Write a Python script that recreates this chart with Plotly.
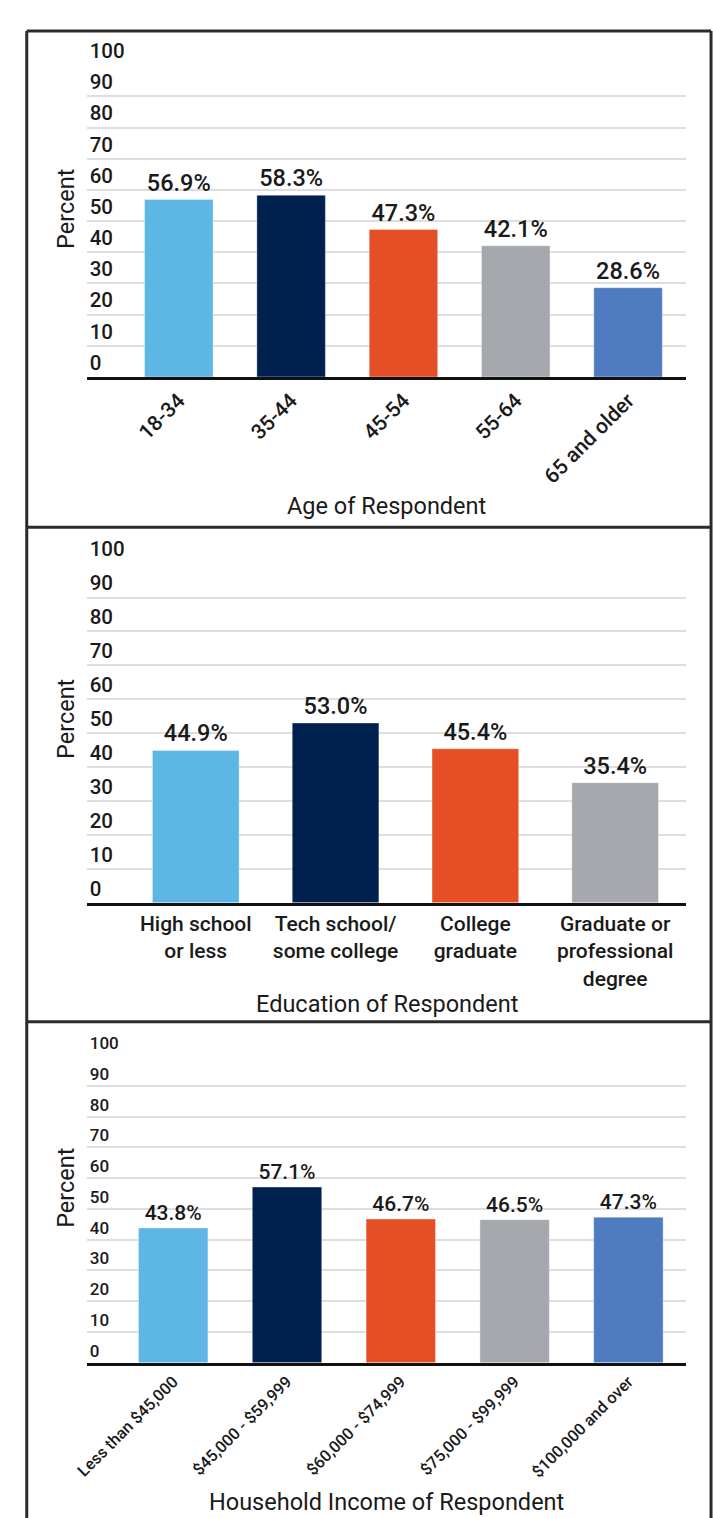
import plotly.graph_objects as go

W, H = 713, 1518

age_cats = ["18-34", "35-44", "45-54", "55-64", "65 and older"]
age_vals = [56.9, 58.3, 47.3, 42.1, 28.6]

edu_cats = ["High school<br>or less", "Tech school/<br>some college", "College<br>graduate",
            "Graduate or<br>professional<br>degree"]
edu_vals = [44.9, 53.0, 45.4, 35.4]

inc_cats = ["Less than $45,000", "$45,000 - $59,999", "$60,000 - $74,999",
            "$75,000 - $99,999", "$100,000 and over"]
inc_vals = [43.8, 57.1, 46.7, 46.5, 47.3]

colors = ["#5db6e4", "#002050", "#e44f26", "#a5a9ad", "#4f7bc1"]

FONT = "Roboto"


def px(x):
    return x / W


def py(y):
    return 1 - y / H


fig = go.Figure()

panels = [
    dict(cats=age_cats, vals=age_vals, top=40, bottom=357, xr=[-0.82, 4.52], bw=0.61,
         tick=20.5, xtick=21, angle=-45, val=23.5, title="Age of Respondent", ty=488, pct=186),
    dict(cats=edu_cats, vals=edu_vals, top=547, bottom=892, xr=[-0.78, 3.51], bw=0.62,
         tick=20.5, xtick=21, angle=0, val=23.5, title="Education of Respondent", ty=995, pct=705),
    dict(cats=inc_cats, vals=inc_vals, top=1047, bottom=1360, xr=[-0.76, 4.51], bw=0.61,
         tick=17, xtick=16.3, angle=-45, val=21, title="Household Income of Respondent", ty=1502, pct=1182),
]

annotations = []
for i, p in enumerate(panels):
    n = i + 1
    xa = "x" if n == 1 else f"x{n}"
    ya = "y" if n == 1 else f"y{n}"
    fig.add_trace(go.Bar(
        x=list(range(len(p["cats"]))), y=p["vals"],
        marker=dict(color=colors[:len(p["vals"])],
                    line=dict(width=1, color="rgba(255,255,255,0.35)")),
        width=p["bw"],
        texttemplate="%{y:.1f}%", textposition="outside",
        textfont=dict(family=FONT, size=p["val"], color="#1a1a1a", weight=500),
        cliponaxis=False, xaxis=xa, yaxis=ya, showlegend=False,
    ))
    xkey = "xaxis" if n == 1 else f"xaxis{n}"
    ykey = "yaxis" if n == 1 else f"yaxis{n}"
    fig.update_layout({
        xkey: dict(
            domain=[px(76), px(686)], range=p["xr"], anchor=ya,
            tickmode="array", tickvals=list(range(len(p["cats"]))), ticktext=p["cats"],
            tickangle=p["angle"], showgrid=False, zeroline=False,
            showline=True, linecolor="#111111", linewidth=3, ticks="",
            tickfont=dict(family=FONT, size=p["xtick"], color="#1a1a1a", weight=500),
            fixedrange=True,
        ),
        ykey: dict(
            domain=[py(p["bottom"]), py(p["top"])], range=[0, 100], anchor=xa,
            tickmode="linear", tick0=0, dtick=10,
            ticklabelposition="inside top", ticklabeloverflow="allow",
            showgrid=True, gridcolor="#dedede", gridwidth=2,
            zeroline=False, showline=False, ticks="",
            tickfont=dict(family=FONT, size=p["tick"], color="#1a1a1a", weight=500),
            fixedrange=True,
        ),
    })
    annotations.append(dict(
        text=p["title"], x=px(381), y=py(p["ty"]), xref="paper", yref="paper",
        showarrow=False, font=dict(family=FONT, size=23.5, color="#1a1a1a"),
        xanchor="center", yanchor="middle"))
    annotations.append(dict(
        text="Percent", x=px(55), y=py(p["pct"]), xref="paper", yref="paper",
        showarrow=False, textangle=-90, font=dict(family=FONT, size=23.5, color="#1a1a1a"),
        xanchor="center", yanchor="middle"))

line_style = dict(color="#2b2b2b", width=3)
shapes = [
    dict(type="line", xref="paper", yref="paper", x0=px(15), x1=px(15), y0=py(5), y1=py(1530), line=line_style),
    dict(type="line", xref="paper", yref="paper", x0=px(711), x1=px(711), y0=py(5), y1=py(1530), line=line_style),
    dict(type="line", xref="paper", yref="paper", x0=px(15), x1=px(711), y0=py(5), y1=py(5), line=line_style),
    dict(type="line", xref="paper", yref="paper", x0=px(15), x1=px(711), y0=py(510), y1=py(510), line=line_style),
    dict(type="line", xref="paper", yref="paper", x0=px(15), x1=px(711), y0=py(1013), y1=py(1013), line=line_style),
]

fig.update_layout(
    width=W, height=H, margin=dict(l=0, r=0, t=0, b=0),
    paper_bgcolor="white", plot_bgcolor="white",
    annotations=annotations, shapes=shapes, bargap=0.3,
    font=dict(family=FONT),
)

fig.write_html("out.html", config={"displayModeBar": False})

css = "<style>html,body{margin:0;padding:0;overflow:hidden;}</style>"
with open("out.html", "r", encoding="utf-8") as f:
    html = f.read()
html = html.replace("<head>", "<head>" + css, 1)
with open("out.html", "w", encoding="utf-8") as f:
    f.write(html)
